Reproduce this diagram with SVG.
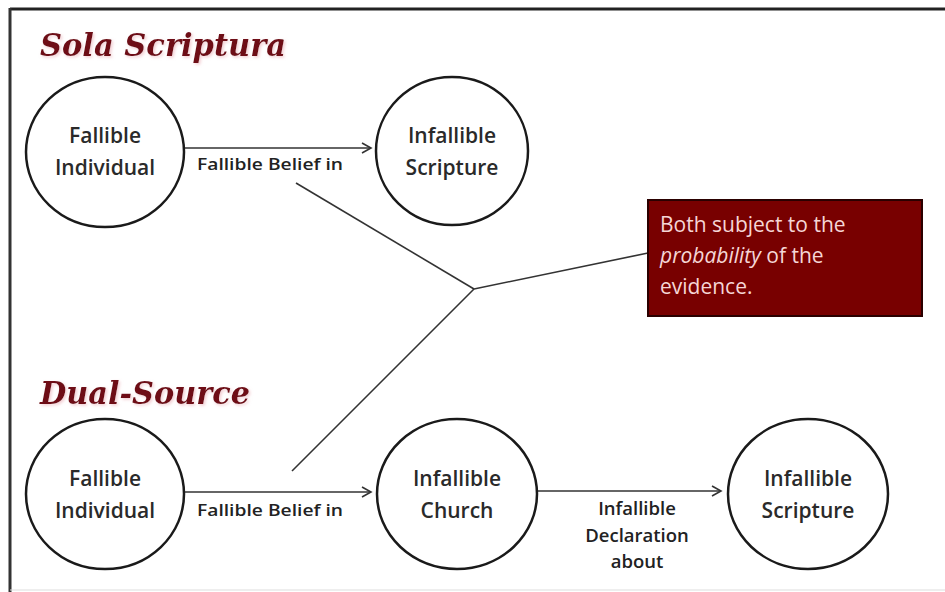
<svg xmlns="http://www.w3.org/2000/svg" width="945" height="592" viewBox="0 0 945 592">
<defs>
<marker id="arr" markerWidth="12" markerHeight="12" refX="10" refY="6" orient="auto" markerUnits="userSpaceOnUse">
<path d="M1,1 L10,6 L1,11" fill="none" stroke="#333" stroke-width="1.6"/>
</marker>
<filter id="glow" x="-10%" y="-30%" width="120%" height="160%">
<feDropShadow dx="1.5" dy="1.5" stdDeviation="1.5" flood-color="#e8a8b0" flood-opacity="0.6"/>
</filter>
</defs>
<style>
.node ellipse{fill:#fff;stroke:#1a1a1a;stroke-width:2.5}
.nt{font-family:"Open Sans","Noto Sans",sans-serif;font-size:21px;font-weight:600;fill:#2a2a2a;text-anchor:middle}
.lbl{font-family:"Open Sans","Noto Sans",sans-serif;font-size:17px;font-weight:600;fill:#222}
.dl{font-size:18.5px;text-anchor:middle}
.conn line{stroke:#333;stroke-width:1.6}
.title{font-family:"DejaVu Serif",serif;font-weight:bold;font-style:italic;font-size:32px;fill:#6e0b16;filter:url(#glow)}
.box{font-family:"Open Sans","Noto Sans",sans-serif;font-size:21px;fill:#f5d6d6}
</style>
<rect width="945" height="592" fill="#fff"/>
<line x1="10" y1="9" x2="945" y2="9" stroke="#222" stroke-width="3"/>
<line x1="10" y1="8" x2="10" y2="592" stroke="#333" stroke-width="3"/>
<line x1="10" y1="590" x2="945" y2="590" stroke="#ddd" stroke-width="1"/>
<g id="title-sola">
<text class="title" x="40" y="56" textLength="246" lengthAdjust="spacingAndGlyphs">Sola Scriptura</text>
</g>
<g id="title-dual">
<text class="title" x="40" y="404" textLength="210" lengthAdjust="spacingAndGlyphs">Dual-Source</text>
</g>
<g class="conn" id="connectors">
<line x1="185" y1="148" x2="371" y2="148" marker-end="url(#arr)"/>
<line x1="185" y1="492" x2="371" y2="492" marker-end="url(#arr)"/>
<line x1="537" y1="491" x2="721" y2="491" marker-end="url(#arr)"/>
<line x1="296" y1="183" x2="474" y2="289"/>
<line x1="292" y1="471" x2="474" y2="289"/>
<line x1="474" y1="289" x2="648" y2="253"/>
<text class="lbl" x="197" y="170" textLength="146" lengthAdjust="spacingAndGlyphs">Fallible Belief in</text>
<text class="lbl" x="197" y="516" textLength="146" lengthAdjust="spacingAndGlyphs">Fallible Belief in</text>
<text class="lbl dl" x="637" y="515">Infallible</text>
<text class="lbl dl" x="637" y="542">Declaration</text>
<text class="lbl dl" x="637" y="568">about</text>
</g>
<g id="n1" class="node">
<ellipse cx="105" cy="152" rx="79" ry="75"/>
<text class="nt" x="105" y="143">Fallible</text>
<text class="nt" x="105" y="175">Individual</text>
</g>
<g id="n2" class="node">
<ellipse cx="452" cy="151" rx="76" ry="74"/>
<text class="nt" x="452" y="143">Infallible</text>
<text class="nt" x="452" y="175">Scripture</text>
</g>
<g id="n3" class="node">
<ellipse cx="105" cy="494" rx="79" ry="75"/>
<text class="nt" x="105" y="486">Fallible</text>
<text class="nt" x="105" y="518">Individual</text>
</g>
<g id="n4" class="node">
<ellipse cx="457" cy="494" rx="80" ry="75"/>
<text class="nt" x="457" y="486">Infallible</text>
<text class="nt" x="457" y="518">Church</text>
</g>
<g id="n5" class="node">
<ellipse cx="808" cy="494" rx="80" ry="75"/>
<text class="nt" x="808" y="486">Infallible</text>
<text class="nt" x="808" y="518">Scripture</text>
</g>
<g id="note">
<rect x="648" y="200" width="274" height="116" fill="#780000" stroke="#2a0000" stroke-width="2"/>
<text class="box" x="660" y="232">Both subject to the</text>
<text class="box" x="660" y="263"><tspan font-style="italic">probability</tspan> of the</text>
<text class="box" x="660" y="294">evidence.</text>
</g>
</svg>
